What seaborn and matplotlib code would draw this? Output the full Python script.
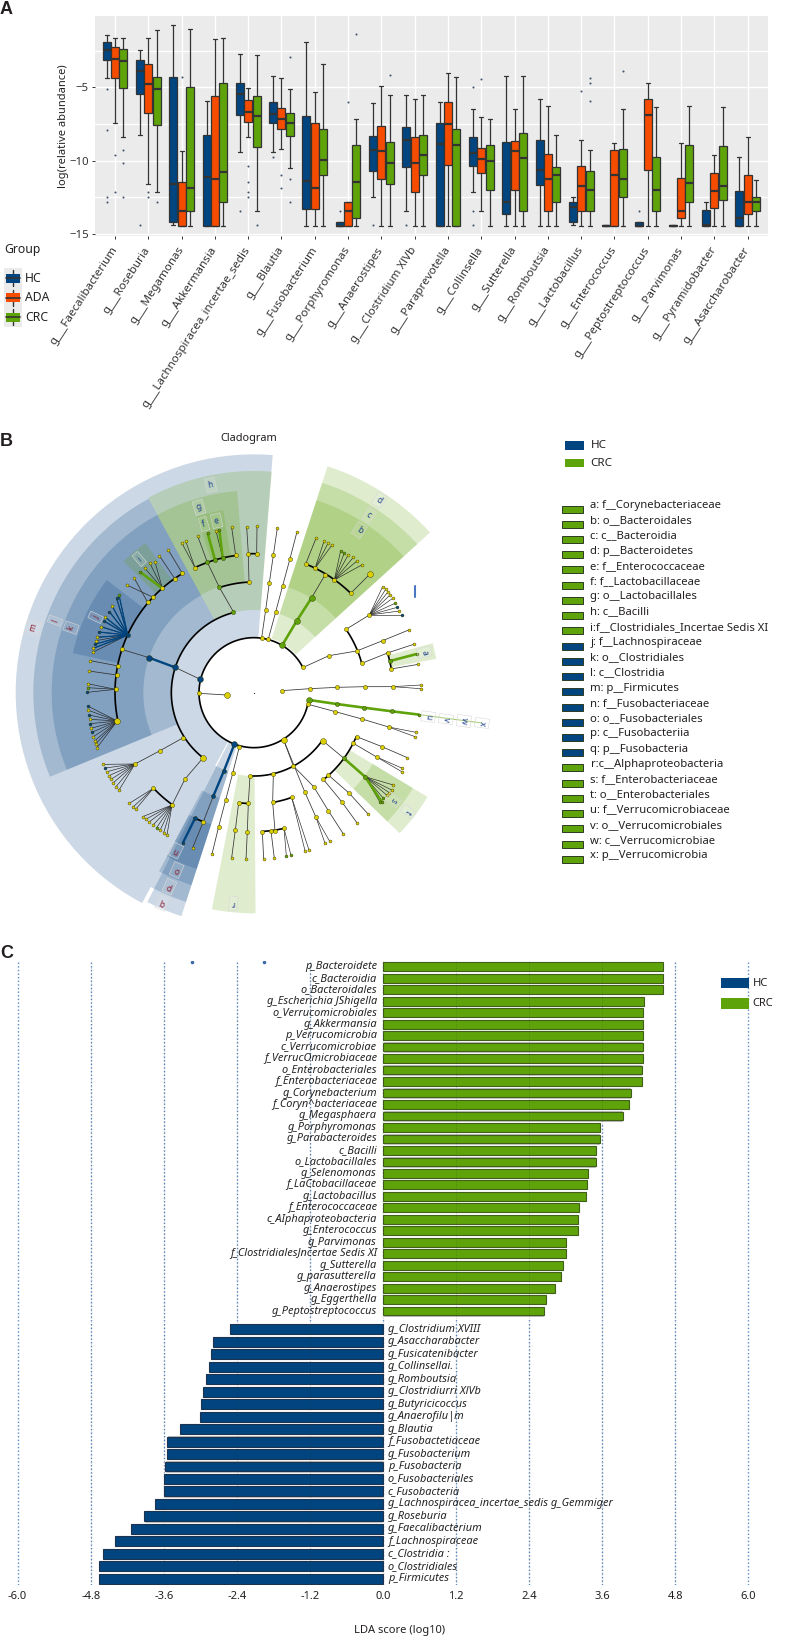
import numpy as np
import pandas as pd
import matplotlib
matplotlib.use("Agg")
import matplotlib.pyplot as plt
from matplotlib.collections import LineCollection
from matplotlib.patches import Rectangle
import seaborn as sns

# ---------- Panel A data: [whisker top, q3, median, q1, whisker bottom]
GENERA = ["g___Faecalibacterium", "g___Roseburia", "g___Megamonas", "g___Akkermansia",
          "g___Lachnospiracea_incertae_sedis", "g___Blautia", "g___Fusobacterium",
          "g___Porphyromonas", "g___Anaerostipes", "g___Clostridium XlVb", "g___Paraprevotella",
          "g___Collinsella", "g___Sutterella", "g___Romboutsia", "g___Lactobacillus",
          "g___Enterococcus", "g___Peptostreptococcus", "g___Parvimonas", "g___Pyramidobacter",
          "g___Asaccharobacter"]
GROUPS = ["HC", "ADA", "CRC"]
F = -14.43
HC = [[-1.43,-1.89,-2.45,-3.14,-4.34],[-2.45,-3.14,-3.86,-5.45,-8.23],[-0.75,-4.27,-11.6,-14.2,-14.41],
      [-5.93,-8.25,-11.11,F,F],[-2.75,-4.73,-5.48,-6.91,-9.41],[-4.23,-5.98,-6.82,-7.41,-9.43],
      [-1.89,-6.98,-11.36,-13.3,F],[-14.16,-14.16,F,F,F],[-6.05,-8.3,-9.3,-10.68,-12.45],
      [-5.52,-7.73,-8.61,-10.43,-13.41],[-5.98,-7.41,-8.89,F,F],[-6.5,-8.39,-9.45,-10.34,-12.11],
      [-4.2,-8.73,-12.82,-13.64,F],[-5.77,-8.57,-10.64,-11.64,F],[-12.5,-12.82,-13.14,-14.18,-14.4],
      [-14.36,-14.36,F,F,F],[-14.16,-14.16,F,F,F],[-14.36,-14.36,F,F,F],[-12.82,-13.39,-14.38,F,F],
      [-9.73,-12.09,-13.93,F,F]]
ADA = [[-1.66,-2.23,-3.07,-4.34,-7.45],[-1.66,-3.43,-4.8,-6.77,-11.6],[-9.34,-11.43,-13.41,F,F],
       [-1.73,-5.57,-11.27,F,F],[-5.07,-5.89,-6.68,-7.34,-8.36],[-4.34,-6.39,-7.18,-7.86,-9.23],
       [-5.3,-7.45,-11.86,-13.3,F],[-12.8,-12.8,-13.41,F,F],[-4.91,-7.64,-9.32,-11.27,F],
       [-5.8,-8.36,-10.14,-12.14,F],[-4.05,-5.98,-7.52,-10.27,F],[-7.02,-9.11,-9.89,-10.86,-13.41],
       [-6.45,-8.64,-9.32,-12.0,F],[-6.25,-9.52,-11.25,-13.43,F],[-8.59,-10.39,-11.7,-13.43,F],
       [-8.82,-9.3,-10.98,F,F],[-4.73,-5.82,-6.91,-10.66,F],[-8.82,-11.16,-13.41,-13.91,F],
       [-9.64,-10.86,-12.05,-13.2,F],[-8.41,-10.95,-12.82,-13.66,F]]
CRC = [[-1.66,-2.41,-3.23,-5.02,-8.36],[-1.09,-4.27,-5.14,-7.57,-12.14],[-1.05,-4.95,-11.86,-13.43,F],
       [-1.64,-4.68,-10.8,-12.82,F],[-2.8,-5.57,-6.93,-9.07,-13.41],[-5.14,-6.75,-7.41,-8.34,-10.52],
       [-3.41,-7.84,-9.98,-11.0,F],[-7.14,-8.91,-11.43,-13.91,F],[-5.52,-8.73,-10.18,-11.61,F],
       [-5.52,-8.25,-9.61,-11.0,F],[-4.32,-7.84,-8.93,F,F],[-7.14,-8.93,-10.0,-12.02,F],
       [-4.25,-8.09,-9.8,-13.43,F],[-8.25,-10.43,-10.98,-12.82,F],[-9.25,-10.7,-11.98,-13.43,F],
       [-6.48,-9.2,-11.25,-12.48,F],[-6.34,-9.73,-12.0,-13.43,F],[-6.3,-8.95,-11.52,-12.82,F],
       [-6.34,-8.98,-11.7,-12.68,F],[-11.32,-12.48,-12.82,-13.43,F]]
# outliers: (genus index, value)
OUT_HC = [(0,-5.14),(0,-7.9),(0,-12.45),(0,-12.82),(1,-14.41),(4,-13.41),(5,-9.73),(7,-13.41),
          (8,-14.41),(9,-14.41),(11,-4.95),(11,-13.41),(11,-14.41),(16,-13.41)]
OUT_ADA = [(0,-9.6),(0,-12.1),(1,-12.1),(1,-12.45),(2,-4.3),(4,-10.34),(4,-11.43),(4,-12.1),(4,-12.45),
           (5,-10.98),(5,-11.84),(7,-5.98),(11,-4.41),(14,-5.25)]
OUT_CRC = [(0,-9.27),(0,-10.14),(0,-12.45),(1,-12.82),(4,-14.41),(5,-2.95),(5,-11.27),(5,-12.82),
           (7,-1.36),(8,-4.14),(14,-4.36),(14,-4.7),(14,-5.95),(15,-3.86)]

# ---------- Panel B data (legend, sectors, tree layout)
TAXA = ["a: f__Corynebacteriaceae", "b: o__Bacteroidales", "c: c__Bacteroidia", "d: p__Bacteroidetes",
        "e: f__Enterococcaceae", "f: f__Lactobacillaceae", "g: o__Lactobacillales", "h: c__Bacilli",
        "i:f__Clostridiales_Incertae Sedis XI", "j: f__Lachnospiraceae", "k: o__Clostridiales",
        "l: c__Clostridia", "m: p__Firmicutes", "n: f__Fusobacteriaceae", "o: o__Fusobacteriales",
        "p: c__Fusobacteriia", "q: p__Fusobacteria", "r:c__Alphaproteobacteria", "s: f__Enterobacteriaceae",
        "t: o__Enterobacteriales", "u: f__Verrucomicrobiaceae", "v: o__Verrucomicrobiales",
        "w: c__Verrucomicrobiae", "x: p__Verrucomicrobia"]
TAXA_GROUP = list("CCCCCCCCCHHHHHHHHCCCCCCC")
# (start angle, end angle, inner radius, outer radius, group)
SECTORS = [(85.5,242,165,715,"H"),(118.5,202.4,248,662,"H"),(118.5,202.4,332,607,"H"),(142.6,167.7,415,556,"H"),
           (126,134.8,415,555,"C"),(85.4,118.5,248,665,"C"),(94.8,118.5,334,607,"C"),(104,108,415,555,"C"),(99.6,104,415,555,"C"),
           (42.3,72,170,714,"C"),(42.3,72,248,662,"C"),(42.3,72,332,607,"C"),(10.5,15.5,415,556,"C"),
           (243,252,165,705,"H"),(242,252,248,660,"H"),(242,252,332,607,"H"),(242,252,415,556,"H"),
           (259,270.4,250,662,"C"),(316,329,332,607,"C"),(316,329,415,556,"C")]
# (radius, start angle, end angle) of the black arcs
ARCS = [(165,27,348),(248,104,232),(250,267,325),(417,121,191.7),(332,92.6,108),(415,97.6,115.3),
        (417,88.6,92.3),(416,45.8,68),(335,15.2,34.5),(418,9.8,16.8),(334,308.7,336.8),(334,279.7,289.8),
        (417,273.4,282.5),(333,262,267),(416,244.5,248.6),(416,223.5,233.9)]
CENTER = (762,878)
CHAINS = [[(601,838),(525,802)],[(597,880),(680,885)],
          [(525,802),(447,773),(365,748)],[(547,520),(505,450)],[(525,537),(478,467)],[(460,592),(380,555)],[(443,607),(402,533)],
          [(355,798),(271,782)],[(350,825),(267,813)],
          [(700,635),(658,562)],[(658,562),(622,487),(593,408)],[(645,480),(623,400)],[(668,473),(658,390)],
          [(707,466),(695,382)],[(747,547),(745,462),(740,380)],[(770,462),(771,379)],
          [(785,713),(797,630),(808,548),(820,466),(832,384)],[(805,717),(827,636),(848,557),(870,476),(891,395)],
          [(847,735),(890,663),(935,593),(975,525)],[(917,492),(948,415)],[(1052,580),(1111,521)],
          [(910,802),(987,767),(1070,753)],[(1038,688),(1108,645)],[(1070,753),(1148,722),(1226,690)],
          [(1085,790),(1165,758),(1241,733)],[(1170,783),(1250,762)],[(1173,807),(1255,793)],
          [(845,872),(929,866),(1012,862),(1095,860),(1178,860)],
          [(928,900),(1010,912),(1092,923),(1176,934),(1258,944)],[(925,913),(1006,935),(1086,957),(1166,981)],
          [(851,1020),(880,1098)],[(851,1020),(914,1175),(948,1252)],[(880,1098),(941,1160),(985,1232),(1030,1302)],
          [(820,1122),(818,1207),(825,1292)],[(787,1295),(791,1377)],[(813,1293),(823,1375)],
          [(750,1128),(745,1210),(742,1295),(738,1378)],[(716,1208),(706,1290),(695,1373)],
          [(703,1033),(672,1112),(640,1188),(610,1265),(578,1343)],[(585,1255),(548,1330)],
          [(718,1040),(698,1120),(677,1200),(656,1280),(636,1362)],
          [(608,1075),(555,1137),(516,1215)],[(550,1013),(480,1052),(405,1092)],
          [(968,1022),(1032,1075)],[(1070,1010),(1146,1040),(1222,1073)],[(1060,1030),(1130,1071)],
          [(1032,1075),(1095,1130)],[(970,1138),(1025,1205),(1072,1270)],[(985,1125),(1048,1180),(1105,1243)]]
FANS = [((487,565),[(420,516),(435,505),(450,490),(465,485)]),
        ((383,705),[(357,585),(350,595),(336,617),(328,635),(316,652),(312,663),(303,680),(296,696),(290,712),(288,722),(284,733),(280,745),(278,757)]),
        ((347,868),[(263,851),(263,863),(262,877)]),
        ((352,963),[(263,918),(263,930),(267,945),(270,958),(270,971),(273,985),(276,997),(280,1010),(285,1022),(287,1032),(291,1043)]),
        ((585,503),[(545,428),(557,423)]),((668,473),[(648,393)]),
        ((945,505),[(972,424),(984,430),(995,436)]),
        ((1003,540),[(1022,452),(1033,458),(1045,464),(1060,472),(1072,482),(1085,495)]),
        ((1108,645),[(1148,560),(1157,568),(1163,577),(1170,585),(1178,595),(1185,610),(1192,622),(1198,633),(1205,645)]),
        ((1178,860),[(1262,855),(1262,866)]),((1166,981),[(1248,997),(1245,1010)]),
        ((948,1252),[(975,1330),(989,1324)]),((852,1285),[(859,1368),(873,1366)]),((875,1192),[(915,1352),(927,1350)]),
        ((460,1165),[(388,1210),(398,1222),(407,1228)]),
        ((516,1215),[(428,1250),(437,1258),(447,1266),(459,1275),(470,1283),(480,1291),(491,1298),(501,1305)]),
        ((405,1092),[(310,1093),(316,1104),(322,1115),(327,1127),(333,1138),(340,1148),(348,1160),(357,1170)]),
        ((1130,1071),[(1207,1105),(1205,1115)]),
        ((1095,1130),[(1180,1155),(1175,1170),(1168,1178),(1160,1185),(1150,1195),(1145,1205),(1140,1207)])]
THICK_H = [[(525,802),(447,773)],[(703,1033),(672,1112),(640,1188)],[(585,1255),(548,1330)]]
FAN_H = [[(383,705),(357,585)],[(383,705),(350,595)],[(383,705),(336,617)],[(383,705),(328,635)],[(383,705),(316,652)],
         [(383,705),(312,663)],[(383,705),(303,680)],[(383,705),(296,696)],[(383,705),(290,712)],[(383,705),(284,733)],[(383,705),(280,745)]]
THICK_C = [[(847,735),(890,663),(935,593)],[(487,565),(420,516)],[(645,480),(623,400)],[(668,473),(658,390)],
           [(1170,783),(1250,762)],[(928,900),(1010,912),(1092,923),(1176,934),(1258,944)],
           [(1032,1075),(1095,1130),(1145,1205)]]
NODES_H = [(601,838),(525,802),(447,773),(383,705),(350,595),(328,635),(312,663),(296,696),(284,733),(262,877),
           (263,918),(267,945),(270,971),(276,997),(703,1033),(672,1112),(640,1188),(585,1255),(548,1330),
           (1192,622),(1205,645),(316,1104)]
NODES_C = [(700,635),(658,562),(622,487),(645,480),(623,400),(668,473),(658,390),(420,516),(357,585),(263,863),
           (847,735),(890,663),(935,593),(1022,452),(1033,458),(1170,783),(1250,762),(1185,610),
           (928,900),(1010,912),(1092,923),(1176,934),(1258,944),(470,1283),(859,1368),(873,1366),
           (1032,1075),(1095,1130),(1145,1205),(1140,1207),(1150,1195)]
NODES_L = [(680,885),(601,838),(525,802),(447,773),(847,735),(928,900),(352,963),(1111,521),(608,1075),(968,1022),(851,1020),(703,1033),(935,593),(890,663)]
# (letter, x, y, group)
CLADE_LABELS = [("m",100,682,"H"),("l",165,662,"H"),("k",213,683,"H"),("j",287,652,"H"),("i",418,477,"C"),
                ("h",632,255,"C"),("g",597,322,"C"),("f",612,372,"C"),("e",650,362,"C"),("d",1138,300,"C"),
                ("c",1107,346,"C"),("b",1078,390,"C"),("a",1273,757,"C"),("n",528,1352,"H"),("o",530,1410,"H"),
                ("p",508,1460,"H"),("q",487,1508,"H"),("r",700,1510,"C"),("s",1180,1200,"C"),("t",1225,1235,"C"),
                ("u",1285,950,"C"),("v",1338,957,"C"),("w",1392,963,"C"),("x",1446,969,"C")]

# ---------- Panel C data
CRC_TAXA = ["p_Bacteroidete","c_Bacteroidia","o_Bacteroidales","g_Escherichia JShigella","o_Verrucomicrobiales",
            "g_Akkermansia","p_Verrucomicrobia","c_Verrucomicrobiae","f_VerrucOmicrobiaceae","o_Enterobacteriales",
            "f_Enterobacteriaceae","g_Corynebacterium","f_Coryn^bacteriaceae","g_Megasphaera","g_Porphyromonas",
            "g_Parabacteroides","c_Bacilli","o_Lactobacillales","g_Selenomonas","f_LaCtobacillaceae","g_Lactobacillus",
            "f_Enterococcaceae","c_AIphaproteobacteria","g_Enterococcus","g_Parvimonas","f_ClostridialesJncertae Sedis XI",
            "g_Sutterella","g_parasutterella","g_Anaerostipes","g_Eggerthella","g_Peptostreptococcus"]
CRC_LDA = [4.59,4.59,4.59,4.29,4.27,4.27,4.27,4.27,4.27,4.25,4.25,4.08,4.04,3.94,3.56,3.56,3.50,3.49,3.37,3.35,3.34,
           3.22,3.21,3.21,3.01,3.01,2.95,2.92,2.82,2.68,2.65]
HC_TAXA = ["g_Clostridium XVIII","g_Asaccharabacter","g_Fusicatenibacter","g_Collinsellai.","g_Romboutsia",
           "g_Clostridiurri XlVb","g_Butyricicoccus","g_Anaerofilu|m","g_Blautia","f_Fusobactetiaceae","g_Fusobacterium",
           "p_Fusobacteria","o_Fusobacteriales","c_Fusobacteria","g_Lachnospiracea_incertae_sedis g_Gemmiger",
           "g_Roseburia","g_Faecalibacterium","f_Lachnospiraceae","c_Clostridia :","o_Clostridiales","p_Firmicutes"]
HC_LDA = [-2.52,-2.79,-2.82,-2.86,-2.91,-2.95,-2.99,-3.0,-3.34,-3.55,-3.55,-3.58,-3.59,-3.6,-3.75,-3.93,-4.14,-4.40,
          -4.60,-4.67,-4.67]
LDA_TICKS = [-6.0,-4.8,-3.6,-2.4,-1.2,0.0,1.2,2.4,3.6,4.8,6.0]

# ---------- style
BLUE, ORANGE, GREEN = "#00457f", "#f54c00", "#5fa30a"
TXT = "#231f20"
sns.set_theme(style="white")
plt.rcParams["font.family"] = ["Noto Sans", "DejaVu Sans"]
W, H = 793, 1637
fig = plt.figure(figsize=(W/100, H/100), dpi=100, facecolor="white")

def px_axes(x0, y0, x1, y1, **kw):
    return fig.add_axes([x0/W, 1-y1/H, (x1-x0)/W, (y1-y0)/H], **kw)

# overlay in pixel coordinates for legends and panel letters
ov = px_axes(0, 0, W, H, zorder=10)
ov.set_xlim(0, W); ov.set_ylim(H, 0); ov.axis("off"); ov.patch.set_alpha(0)

# ---------- Panel A
axA = px_axes(95, 16, 768, 236)
rows = []
for grp, table in zip(GROUPS, [HC, ADA, CRC]):
    for g, vals in zip(GENERA, table):
        rows += [(g, grp, v) for v in vals]
dfA = pd.DataFrame(rows, columns=["genus", "group", "value"])
axA.set_facecolor("#ebebeb")
axA.set_axisbelow(True)
sns.boxplot(data=dfA, x="genus", y="value", hue="group", order=GENERA, hue_order=GROUPS,
            palette=[BLUE, ORANGE, GREEN], saturation=1, whis=(0, 100), width=0.75, gap=0.04, fliersize=0,
            linecolor="#333333", linewidth=0.9, medianprops={"linewidth": 1.6}, legend=False, ax=axA)
rows = []
for k, (grp, out) in enumerate(zip(GROUPS, [OUT_HC, OUT_ADA, OUT_CRC])):
    rows += [(i + (k-1)*0.25, v) for i, v in out]
dfO = pd.DataFrame(rows, columns=["x", "value"])
sns.scatterplot(data=dfO, x="x", y="value", s=2.2, color="#44546a", linewidth=0, ax=axA, zorder=4, legend=False)
axA.set_xlim(-0.6, 19.61); axA.set_ylim(-15.13, -0.14)
axA.set_yticks([-5, -10, -15]); axA.set_yticks([-2.5, -7.5, -12.5], minor=True)
axA.grid(True, which="both", color="white", lw=1.0)
for s in axA.spines.values():
    s.set_visible(False)
axA.tick_params(axis="both", which="major", length=2.5, width=0.7, color="#333333", labelsize=8.2, labelcolor="#333333", bottom=True, left=True, pad=2)
axA.tick_params(axis="y", which="minor", length=0)
axA.set_xticks(range(20))
axA.set_xticklabels(GENERA, rotation=57, ha="right", va="center", rotation_mode="anchor", fontsize=8.3, color="#333333")
axA.tick_params(axis="x", pad=6)
axA.set_xlabel("")
axA.set_ylabel("log(relative abundance)", fontsize=8, color="#222222", labelpad=0)

ov.text(4, 249, "Group", fontsize=8.8, color="#222222", va="center")
for i, (g, c) in enumerate(zip(GROUPS, [BLUE, ORANGE, GREEN])):
    yc = 278 + i*19.6
    ov.add_patch(Rectangle((4, yc-9.8), 18, 19.6, fc="#ebebeb", ec="none"))
    ov.plot([13, 13], [yc-8, yc+8], color="#333333", lw=1)
    ov.add_patch(Rectangle((6, yc-4.5), 14, 9, fc=c, ec="none", zorder=3))
    ov.plot([6, 20], [yc, yc], color="#333333", lw=1.2, zorder=4)
    ov.text(25, yc, g, fontsize=8.8, color="#222222", va="center")

# ---------- Panel B
axB = px_axes(0, 400, 500, 920)
axB.set_xlim(0, 1500); axB.set_ylim(1560, 0); axB.axis("off")
cx, cy = CENTER
GCOL = {"H": "#003f7f", "C": GREEN}

def polar(r, a):
    a = np.radians(a)
    return cx + r*np.cos(a), cy - r*np.sin(a)

for a0, a1, r0, r1, g in SECTORS:
    t = np.linspace(a0, a1, 60)
    xo, yo = polar(r1, t)
    xi, yi = polar(r0, t[::-1])
    axB.fill(np.r_[xo, xi], np.r_[yo, yi], color=GCOL[g], alpha=0.2, lw=0)

thin = [list(c) for c in CHAINS]
fan_lines = [[p, q] for p, kids in FANS for q in kids]
axB.add_collection(LineCollection(thin, colors="#333333", linewidths=0.55, zorder=2))
axB.add_collection(LineCollection(fan_lines, colors="#222222", linewidths=0.45, zorder=2))
for r, a0, a1 in ARCS:
    x, y = polar(r, np.linspace(a0, a1, 120))
    axB.plot(x, y, color="black", lw=1.2, zorder=3, solid_capstyle="round")
axB.add_collection(LineCollection(THICK_H, colors=BLUE, linewidths=1.7, zorder=3))
axB.add_collection(LineCollection(FAN_H, colors=BLUE, linewidths=0.9, zorder=3))
axB.add_collection(LineCollection(THICK_C, colors=GREEN, linewidths=1.9, zorder=3))
axB.plot([1258, 1446], [944, 969], color="#a9cc78", lw=0.8, zorder=1)
axB.plot([1246, 1246], [558, 590], color="#4a78c0", lw=1.5)

pts = []
for c in CHAINS:
    pts += c
for p, kids in FANS:
    pts += [p] + kids
pts = list(dict.fromkeys(pts))
setH, setC, setL = set(NODES_H), set(NODES_C), set(NODES_L)
nd = pd.DataFrame(pts, columns=["x", "y"])
nd["r"] = np.hypot(nd.x-cx, nd.y-cy)
nd["col"] = [BLUE if p in setH else GREEN if p in setC else "#dccf00" for p in pts]
nd["s"] = [18.0 if p in setL else (9.0 if r < 430 else 4.5) for p, r in zip(pts, nd.r)]
for (col, s), part in nd.groupby(["col", "s"]):
    sns.scatterplot(data=part, x="x", y="y", s=s, color=col, edgecolor="#333300", linewidth=0.3,
                    ax=axB, zorder=5, legend=False)
axB.set_xlim(0, 1500); axB.set_ylim(1560, 0); axB.axis("off")
axB.scatter([cx], [cy], s=0.8, color="#333333", linewidths=0, zorder=5)

LCOL = {"H": "#8e1b2b", "C": "#1f3f8f"}
for ch, x, y, g in CLADE_LABELS:
    ang = np.degrees(np.arctan2(cy-y, x-cx))
    axB.text(x, y, ch, fontsize=6, color=LCOL[g], rotation=ang-90, ha="center", va="center", zorder=6,
             rotation_mode="anchor",
             bbox=dict(boxstyle="square,pad=0.3", fc=(1, 1, 1, 0.12), ec="#d8d8d8", lw=0.4))

ov.text(249, 439, "Cladogram", fontsize=7.9, color=TXT, ha="center", va="center")
for i, (g, c) in enumerate([("HC", BLUE), ("CRC", GREEN)]):
    yc = 445.5 + i*17.5
    ov.add_patch(Rectangle((564.5, yc-4.3), 19.5, 8.6, fc=c, ec="none"))
    ov.text(590.5, yc, g, fontsize=8.4, color=TXT, va="center")
for i, (t, g) in enumerate(zip(TAXA, TAXA_GROUP)):
    yt = 505.3 + i*15.235
    ov.add_patch(Rectangle((561.7, yt+0.2), 21, 7, fc=BLUE if g == "H" else GREEN, ec="#2b3a22", lw=0.7))
    ov.text(590.5, yt, t, fontsize=8.1, color=TXT, va="center")

# ---------- Panel C
X0, X1 = 10, 770
def v2x(px):
    return (px - 383)/60.9
xl = (v2x(X0), v2x(X1))
axG = px_axes(X0, 961, X1, 1321); axH = px_axes(X0, 1321, X1, 1585)
dfG = pd.DataFrame({"taxon": CRC_TAXA, "score": CRC_LDA})
dfB = pd.DataFrame({"taxon": HC_TAXA, "score": HC_LDA})
for ax, df, col, edge, wid in [(axG, dfG, GREEN, "#3f5f1a", 0.76), (axH, dfB, BLUE, "#1e3350", 0.8)]:
    ax.patch.set_alpha(0)
    for v in LDA_TICKS:
        ax.axvline(v, color="#5b8ac5", ls=(0, (1, 1.6)), lw=1.0, zorder=0)
    sns.barplot(data=df, y="taxon", x="score", orient="h", color="#ababab", width=0.98, saturation=1,
                errorbar=None, ax=ax, zorder=1)
    sns.barplot(data=df, y="taxon", x="score", orient="h", color=col, width=wid, saturation=1,
                edgecolor=edge, linewidth=0.8, errorbar=None, ax=ax, zorder=2)
    for v in LDA_TICKS[1:-1]:
        ax.axvline(v, color="#333333", ls=(0, (1, 1.5)), lw=0.7, alpha=0.25, zorder=3)
    ax.set_xlim(xl)
    for s in ax.spines.values():
        s.set_visible(False)
    ax.set_ylabel(""); ax.set_yticks([])
axG.set_ylim(30.86, -0.5); axH.set_ylim(20.5, -0.666)
axG.set_xticks([]); axG.set_xlabel("")
axG.scatter([v2x(192), v2x(264)], [-0.42, -0.42], s=2.5, color="#3a6aa8", zorder=4)
for i, t in enumerate(CRC_TAXA):
    axG.text(-0.1, i, t, ha="right", va="center", style="italic", fontsize=7.9, color="#222222", zorder=5)
for i, t in enumerate(HC_TAXA):
    axH.text(0.08, i, t, ha="left", va="center", style="italic", fontsize=7.9, color="#222222", zorder=5)
axH.set_xticks(LDA_TICKS)
axH.set_xticklabels([f"{v:.1f}" for v in LDA_TICKS], fontsize=8, color=TXT)
axH.tick_params(axis="x", length=0, pad=4)
axH.set_xlabel("LDA score (log10)", fontsize=8, color=TXT)
axH.xaxis.set_label_coords((400-X0)/(X1-X0), -(1620-1585)/264 - 0.02)
for i, (g, c) in enumerate([("HC", BLUE), ("CRC", GREEN)]):
    yc = 983 + i*20.5
    ov.add_patch(Rectangle((721, yc-5.2), 28, 10.4, fc=c, ec="none"))
    ov.text(752.5, yc, g, fontsize=8, color=TXT, va="center")

for ch, x, y in [("A", 0, 10), ("B", 0, 442), ("C", 0, 953)]:
    ov.text(x, y, ch, fontsize=13, fontweight="bold", family="Liberation Sans", color=TXT, va="center", ha="left")

fig.savefig("out.png", dpi=100)
